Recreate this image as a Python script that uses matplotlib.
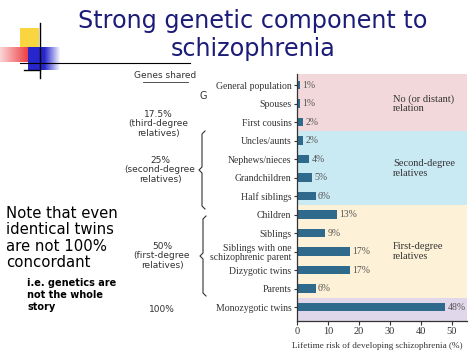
import numpy as np
import matplotlib
matplotlib.use("Agg")
import matplotlib.pyplot as plt
from matplotlib.lines import Line2D

# Data
relations = ['General population', 'Spouses', 'First cousins',
             'Uncles/aunts', 'Nephews/nieces', 'Grandchildren', 'Half siblings',
             'Children', 'Siblings', 'Siblings with one\nschizophrenic parent',
             'Dizygotic twins', 'Parents', 'Monozygotic twins']
risk = [1, 1, 2, 2, 4, 5, 6, 13, 9, 17, 17, 6, 48]
risk_labels = ['1%', '1%', '2%', '2%', '4%', '5%', '6%', '13%', '9%', '17%', '17%', '6%', '48%']

# background groups: (first index, last index, colour, label)
groups = [(0, 2, '#f3d8db', 'No (or distant)\nrelation'),
          (3, 6, '#c9e9f3', 'Second-degree\nrelatives'),
          (7, 11, '#fdf1d7', 'First-degree\nrelatives'),
          (12, 12, '#e0d7ea', '')]

W, H = 474, 355
fig = plt.figure(figsize=(W / 100, H / 100), dpi=100)
fig.patch.set_facecolor('white')


def px(x, y):
    # pixel position on the slide -> figure fraction
    return x / W, 1 - y / H


serif = 'Liberation Serif'
ink = '#333333'

ax = fig.add_axes([297 / W, 1 - 321 / H, 170 / W, 247 / H])
y = np.arange(len(relations))
for lo, hi, col, lab in groups:
    ax.axhspan(lo - 0.5 if lo > 0 else -0.6, hi + 0.5 if hi < 12 else 12.75,
               color=col, lw=0, zorder=0)
    if lab:
        ax.text(31, (lo + hi) / 2, lab, family=serif, fontsize=7.5,
                color=ink, va='center', ha='left', linespacing=1.1)

ax.barh(y, risk, height=0.45, color='#2f698c', zorder=2)
for yi, v, lab in zip(y, risk, risk_labels):
    ax.text(v + 0.8, yi, lab, family=serif, fontsize=7, color='#555555',
            va='center', ha='left')

ax.set_xlim(0, 55)
ax.set_ylim(12.75, -0.6)
ax.set_yticks(y)
ax.set_yticklabels(relations, family=serif, fontsize=7, color=ink,
                   linespacing=1.0)
ax.set_xticks(range(0, 60, 10))
ax.set_xticklabels([str(t) for t in range(0, 60, 10)], family=serif,
                   fontsize=7.5, color=ink)
ax.tick_params(axis='y', length=2, pad=2, color=ink, width=0.8)
ax.tick_params(axis='x', length=3, pad=1.5, color=ink, width=0.8)
for s in ['top', 'right']:
    ax.spines[s].set_visible(False)
for s in ['left', 'bottom']:
    ax.spines[s].set_color(ink)
    ax.spines[s].set_linewidth(0.9)
ax.set_xlabel('Lifetime risk of developing schizophrenia (%)', family=serif,
              fontsize=6.6, color=ink, labelpad=4)
ax.xaxis.set_label_coords(0.47, -0.085)

# left-hand "genes shared" column
fig.text(*px(165, 76), 'Genes shared', fontsize=6.5, color=ink,
         ha='center', va='center')
fig.add_artist(Line2D([px(143, 82)[0], px(188, 82)[0]],
                      [px(143, 82)[1], px(188, 82)[1]], color=ink, lw=0.6))
fig.text(*px(203, 96), 'G', fontsize=7, color=ink, ha='center', va='center')
shared = [(158, 124, '17.5%\n(third-degree\nrelatives)'),
          (160, 170, '25%\n(second-degree\nrelatives)'),
          (162, 256, '50%\n(first-degree\nrelatives)'),
          (162, 310, '100%')]
for sx, sy, s in shared:
    fig.text(*px(sx, sy), s, fontsize=6.5, color=ink, ha='center',
             va='center', linespacing=1.05)

# curly brackets
for top, bot, bx in [(131, 209, 202), (216, 296, 203)]:
    mid = (top + bot) / 2
    pts = [(bx + 3, top), (bx, top + 3), (bx, mid - 3), (bx - 3, mid),
           (bx, mid + 3), (bx, bot - 3), (bx + 3, bot)]
    xs = [px(a, b)[0] for a, b in pts]
    ys = [px(a, b)[1] for a, b in pts]
    fig.add_artist(Line2D(xs, ys, color=ink, lw=0.8))

# slide title and notes
navy = '#1b1b78'
fig.text(*px(253, 35), 'Strong genetic component to\nschizophrenia',
         fontsize=17.2, color=navy, ha='center', va='center', linespacing=1.2)
fig.text(*px(6, 238), 'Note that even\nidentical twins\nare not 100%\nconcordant',
         fontsize=10.7, color='black', ha='left', va='center', linespacing=1.12)
fig.text(*px(27, 295), 'i.e. genetics are\nnot the whole\nstory',
         fontsize=7, weight='bold', color='black', ha='left', va='center',
         linespacing=1.25)

# slide corner decoration (gradient squares), drawn in pixel space
deco = fig.add_axes([0, 1 - 80 / H, 80 / W, 80 / H])
deco.set_xlim(0, 80)
deco.set_ylim(80, 0)
deco.axis('off')
img = np.ones((80, 80, 4))
img[..., 3] = 0
yy, xx = np.mgrid[0:80, 0:80]
# yellow square
m = (xx >= 20) & (xx < 39) & (yy >= 28) & (yy < 47)
img[m] = [0.98, 0.84, 0.25, 1]
# red bar fading to the left
m = (xx < 28) & (yy >= 47) & (yy < 62)
a = np.clip(xx / 28.0, 0, 1)
img[m] = np.stack([np.full(a.shape, 0.92), np.full(a.shape, 0.15),
                   np.full(a.shape, 0.17), 0.2 + 0.7 * a], axis=-1)[m]
# blue square fading to the right
m = (xx >= 28) & (xx < 60) & (yy >= 47) & (yy < 70)
a = np.clip(1 - (xx - 44) / 16.0, 0, 1)
img[m] = np.stack([np.full(a.shape, 0.15), np.full(a.shape, 0.15),
                   np.full(a.shape, 0.8), a], axis=-1)[m]
deco.imshow(img, extent=(0, 80, 80, 0), interpolation='bilinear')

fig.add_artist(Line2D([px(40, 23)[0]] * 2, [px(40, 23)[1], px(40, 78)[1]],
                      color='black', lw=1))
fig.add_artist(Line2D([px(20, 63)[0], px(190, 63)[0]],
                      [px(20, 63)[1]] * 2, color='black', lw=0.8))
fig.add_artist(Line2D([px(24, 70)[0], px(40, 70)[0]],
                      [px(24, 70)[1]] * 2, color='black', lw=1))

fig.savefig('out.png', dpi=100)
